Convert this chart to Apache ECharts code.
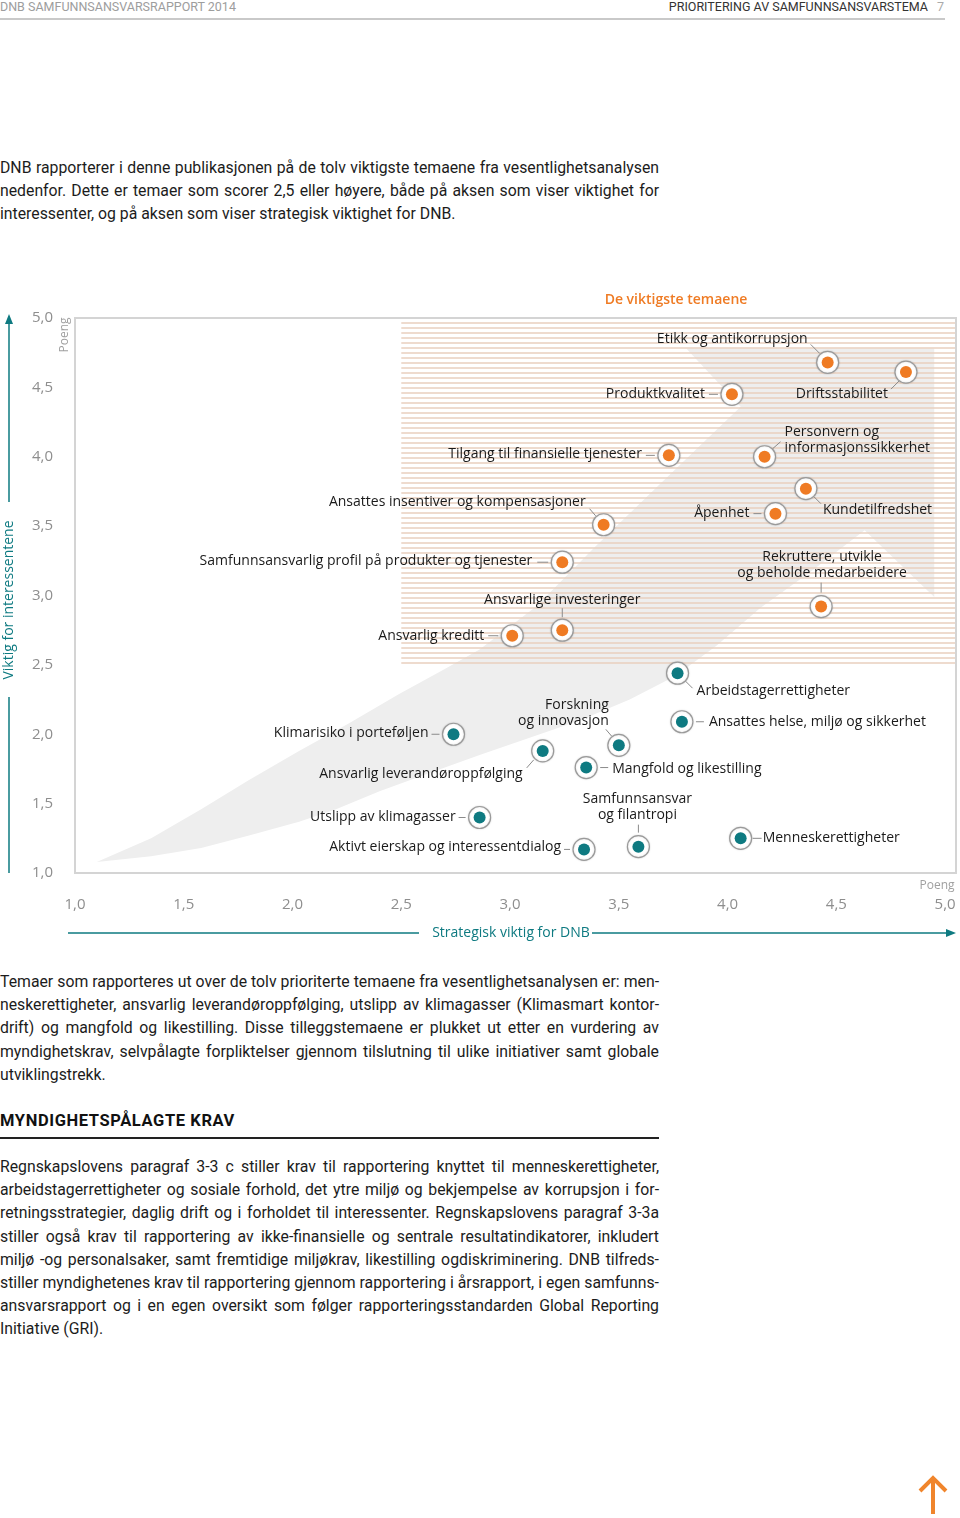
<!DOCTYPE html>
<html><head><meta charset="utf-8">
<script src="https://cdn.jsdelivr.net/npm/echarts@6/dist/echarts.min.js"></script>
<style>
html,body{margin:0;padding:0;background:#fff;}
body{width:960px;height:1518px;position:relative;overflow:hidden;font-family:Roboto,"Noto Sans",sans-serif;color:#1c1c1c;}
.hdr{position:absolute;top:0;font-size:12.5px;line-height:14px;white-space:nowrap;}
.para{position:absolute;left:0;width:659px;font-size:15.8px;line-height:23.2px;}
.para div{white-space:nowrap;text-align:left;}
#chart{position:absolute;left:0;top:0;width:960px;height:1518px;}
</style></head>
<body>
<div class="hdr" style="left:0;color:#9d9d9d;">DNB SAMFUNNSANSVARSRAPPORT 2014</div>
<div class="hdr" style="right:32px;color:#333;">PRIORITERING AV SAMFUNNSANSVARSTEMA</div>
<div class="hdr" style="left:937px;color:#aaa;">7</div>
<div style="position:absolute;left:0;top:18px;width:945px;height:1.5px;background:#c9c9c9;"></div>

<div class="para" style="top:156px;">
<div class="j">DNB rapporterer i denne publikasjonen på de tolv viktigste temaene fra vesentlighetsanalysen</div>
<div class="j">nedenfor. Dette er temaer som scorer 2,5 eller høyere, både på aksen som viser viktighet for</div>
<div>interessenter, og på aksen som viser strategisk viktighet for DNB.</div>
</div>

<div class="para" style="top:970px;">
<div class="j">Temaer som rapporteres ut over de tolv prioriterte temaene fra vesentlighetsanalysen er: men-</div>
<div class="j">neskerettigheter, ansvarlig leverandøroppfølging, utslipp av klimagasser (Klimasmart kontor-</div>
<div class="j">drift) og mangfold og likestilling. Disse tilleggstemaene er plukket ut etter en vurdering av</div>
<div class="j">myndighetskrav, selvpålagte forpliktelser gjennom tilslutning til ulike initiativer samt globale</div>
<div>utviklingstrekk.</div>
</div>

<div style="position:absolute;left:0;top:1109px;font-size:16.5px;line-height:23px;font-weight:bold;letter-spacing:0.6px;color:#111;white-space:nowrap;">MYNDIGHETSPÅLAGTE KRAV</div>
<div style="position:absolute;left:0;top:1137px;width:659px;height:2px;background:#222;"></div>

<div class="para" style="top:1155px;">
<div class="j">Regnskapslovens paragraf 3-3 c stiller krav til rapportering knyttet til menneskerettigheter,</div>
<div class="j">arbeidstagerrettigheter og sosiale forhold, det ytre miljø og bekjempelse av korrupsjon i for-</div>
<div class="j">retningsstrategier, daglig drift og i forholdet til interessenter. Regnskapslovens paragraf 3-3a</div>
<div class="j">stiller også krav til rapportering av ikke-finansielle og sentrale resultatindikatorer, inkludert</div>
<div class="j">miljø -og personalsaker, samt fremtidige miljøkrav, likestilling ogdiskriminering. DNB tilfreds-</div>
<div class="j">stiller myndighetenes krav til rapportering gjennom rapportering i årsrapport, i egen samfunns-</div>
<div class="j">ansvarsrapport og i en egen oversikt som følger rapporteringsstandarden Global Reporting</div>
<div>Initiative (GRI).</div>
</div>

<div id="chart"></div>
<script>
// ---- data ----
const topics = [
  'Etikk og antikorrupsjon',
  'Driftsstabilitet',
  'Produktkvalitet',
  'Tilgang til finansielle tjenester',
  'Personvern og\ninformasjonssikkerhet',
  'Kundetilfredshet',
  'Åpenhet',
  'Ansattes insentiver og kompensasjoner',
  'Samfunnsansvarlig profil på produkter og tjenester',
  'Rekruttere, utvikle\nog beholde medarbeidere',
  'Ansvarlige investeringer',
  'Ansvarlig kreditt',
  'Arbeidstagerrettigheter',
  'Ansattes helse, miljø og sikkerhet',
  'Forskning\nog innovasjon',
  'Ansvarlig leverandøroppfølging',
  'Mangfold og likestilling',
  'Klimarisiko i porteføljen',
  'Utslipp av klimagasser',
  'Aktivt eierskap og interessentdialog',
  'Samfunnsansvar\nog filantropi',
  'Menneskerettigheter'
];
const strategicScore   = [4.46, 4.82, 4.02, 3.73, 4.17, 4.36, 4.22, 3.43, 3.24, 4.43, 3.24, 3.01, 3.77, 3.79, 3.50, 3.15, 3.35, 2.74, 2.86, 3.34, 3.59, 4.06];
const stakeholderScore = [4.68, 4.61, 4.45, 4.01, 4.00, 3.77, 3.59, 3.51, 3.24, 2.92, 2.75, 2.71, 2.44, 2.09, 1.92, 1.88, 1.76, 2.00, 1.40, 1.17, 1.19, 1.25];
const prioritized      = [1,1,1,1,1,1,1,1,1,1,1,1, 0,0,0,0,0,0,0,0,0,0];
const axisTicks = [1, 1.5, 2, 2.5, 3, 3.5, 4, 4.5, 5];
const threshold = 2.5;
// decorative arrow band behind the points (in score units)
const bandOutline = [
  [1.10,1.08],[1.35,1.25],[1.58,1.46],[1.80,1.67],[2.03,1.88],[2.26,2.08],[2.49,2.29],[2.70,2.47],[2.86,2.61],[3.12,2.92],[3.39,3.35],[3.70,3.82],[4.06,4.36],
  [3.81,4.78],[4.95,4.78],[4.95,2.99],[4.63,3.47],
  [4.38,3.17],[4.15,2.91],[3.95,2.64],[3.76,2.42],[3.55,2.25],[3.32,2.10],[3.08,1.97],[2.86,1.85],[2.63,1.72],[2.40,1.59],[2.20,1.46],[2.03,1.37],[1.80,1.27],[1.58,1.18],[1.35,1.12]
];

// ---- styling / layout ----
const ORANGE = '#ef7b24', TEAL = '#0e7a81';
const FONT = '"Open Sans", "Noto Sans", sans-serif';
const labelLayout = [
  {dx:-20,dy:-23,align:'right', lead:[-17,-18,-8,-9]},
  {dx:-18,dy:22, align:'right', lead:[-15,17,-7,9]},
  {dx:-27,dy:0,  align:'right', lead:[-23,0,-14,0]},
  {dx:-27,dy:-1, align:'right', lead:[-23,0,-14,0]},
  {dx:20, dy:-17,align:'left',  lead:[8,-8,16,-15]},
  {dx:17, dy:21, align:'left',  lead:[8,8,15,15]},
  {dx:-26,dy:-1, align:'right', lead:[-22,0,-14,0]},
  {dx:-18,dy:-23,align:'right', lead:[-14,-16,-8,-9]},
  {dx:-30,dy:-1, align:'right', lead:[-25,0,-14,0]},
  {dx:1,  dy:-42,align:'center',lead:[0,-24,0,-14]},
  {dx:0,  dy:-30,align:'center',lead:[0,-22,0,-13]},
  {dx:-28,dy:0,  align:'right', lead:[-24,0,-14,0]},
  {dx:19, dy:18, align:'left',  lead:[8,8,15,15]},
  {dx:27, dy:0,  align:'left',  lead:[14,0,22,0]},
  {dx:-10,dy:-32,align:'right', lead:[-13,-16,-7,-9]},
  {dx:-20,dy:23, align:'right', lead:[-16,17,-9,9]},
  {dx:26, dy:1,  align:'left',  lead:[14,0,22,0]},
  {dx:-25,dy:-1, align:'right', lead:[-22,0,-14,0]},
  {dx:-24,dy:0,  align:'right', lead:[-21,0,-14,0]},
  {dx:-23,dy:-2, align:'right', lead:[-20,0,-14,0]},
  {dx:-1, dy:-40,align:'center',lead:[0,-22,0,-14]},
  {dx:22, dy:0,  align:'left',  lead:[12,0,21,0]}
];

// justify text lines to the column width by measuring them
function justifyLines() {
  document.querySelectorAll('.para div.j').forEach(d => {
    d.style.wordSpacing = '0px';
    d.style.display = 'inline-block';
    const w = d.getBoundingClientRect().width;
    const n = (d.textContent.match(/ /g) || []).length;
    d.style.display = 'block';
    if (n > 0) d.style.wordSpacing = ((659 - w) / n) + 'px';
  });
}
justifyLines();
if (document.fonts && document.fonts.ready) document.fonts.ready.then(justifyLines);

const chart = echarts.init(document.getElementById('chart'), null, {renderer:'canvas'});
const fmt = v => axisTicks.some(t => Math.abs(t - v) < 1e-6) ? v.toFixed(1).replace('.', ',') : '';

const pointData = topics.map((t, i) => [strategicScore[i], stakeholderScore[i], i]);

chart.setOption({
  animation: false,
  grid: {left:75, top:318, width:881, height:555, show:true, borderColor:'#d4d4d4', borderWidth:2, backgroundColor:'transparent'},
  xAxis: {type:'value', min:1, max:5.05, interval:0.5,
    axisLine:{show:false}, axisTick:{show:false}, splitLine:{show:false},
    axisLabel:{formatter:fmt, color:'#8e8e8e', fontSize:15, fontFamily:FONT, margin:24}},
  yAxis: {type:'value', min:1, max:5, interval:0.5,
    axisLine:{show:false}, axisTick:{show:false}, splitLine:{show:false},
    axisLabel:{formatter:fmt, color:'#8e8e8e', fontSize:15, fontFamily:FONT, margin:22}},
  graphic: [
    {type:'text', x:676, y:300, style:{text:'De viktigste temaene', fill:ORANGE, font:'600 14px '+FONT, align:'center', verticalAlign:'middle'}},
    {type:'text', x:65, y:335, rotation:Math.PI/2, style:{text:'Poeng', fill:'#a0a0a0', font:'12px '+FONT, align:'center', verticalAlign:'middle'}},
    {type:'text', x:937, y:886, style:{text:'Poeng', fill:'#a0a0a0', font:'12px '+FONT, align:'center', verticalAlign:'middle'}},
    {type:'text', x:9, y:600, rotation:Math.PI/2, style:{text:'Viktig for interessentene', fill:TEAL, font:'14px '+FONT, align:'center', verticalAlign:'middle'}},
    {type:'line', shape:{x1:9,y1:502,x2:9,y2:322}, style:{stroke:TEAL, lineWidth:1.5}},
    {type:'polygon', shape:{points:[[9,314],[5,324],[13,324]]}, style:{fill:TEAL}},
    {type:'line', shape:{x1:9,y1:697,x2:9,y2:873}, style:{stroke:TEAL, lineWidth:1.5}},
    {type:'text', x:511, y:933, style:{text:'Strategisk viktig for DNB', fill:TEAL, font:'14px '+FONT, align:'center', verticalAlign:'middle'}},
    {type:'line', shape:{x1:68,y1:933,x2:419,y2:933}, style:{stroke:TEAL, lineWidth:1.5}},
    {type:'line', shape:{x1:592,y1:933,x2:948,y2:933}, style:{stroke:TEAL, lineWidth:1.5}},
    {type:'polygon', shape:{points:[[956,933],[946,929],[946,937]]}, style:{fill:TEAL}},
    {type:'polyline', shape:{points:[[920,1491],[933,1478],[946,1491]]}, style:{stroke:'#f0852c', lineWidth:4, fill:null}},
    {type:'line', shape:{x1:933,y1:1480,x2:933,y2:1514}, style:{stroke:'#f0852c', lineWidth:4}}
  ],
  series: [
    { // band (decorative)
      type:'custom', coordinateSystem:'cartesian2d', silent:true, z:1,
      data:[[threshold, threshold]],
      renderItem:(params, api) => ({
        type:'polygon',
        shape:{points: bandOutline.map(p => api.coord(p))},
        style:{fill:'#eeeeee'}
      })
    },
    { // striped "most important" zone
      type:'custom', coordinateSystem:'cartesian2d', silent:true, z:2,
      data:[[threshold, threshold]],
      renderItem:(params, api) => {
        const tl = api.coord([threshold, 5]);
        const br = api.coord([5.05, threshold]);
        const children = [];
        for (let y = tl[1] + 5; y <= br[1] + 0.5; y += 5) {
          children.push({type:'line', shape:{x1:tl[0], y1:y, x2:br[0]-1, y2:y}, style:{stroke:'#e8cfbe', lineWidth:1.4}});
        }
        return {type:'group', children};
      }
    },
    { // topics
      type:'custom', coordinateSystem:'cartesian2d', z:5,
      data: pointData,
      renderItem:(params, api) => {
        const i = api.value(2);
        const p = api.coord([api.value(0), api.value(1)]);
        const L = labelLayout[i];
        const color = prioritized[i] ? ORANGE : TEAL;
        return {type:'group', children:[
          {type:'line', shape:{x1:p[0]+L.lead[0], y1:p[1]+L.lead[1], x2:p[0]+L.lead[2], y2:p[1]+L.lead[3]}, style:{stroke:'#8a8a8a', lineWidth:1}},
          {type:'circle', shape:{cx:p[0], cy:p[1], r:11}, style:{fill:'#fff', stroke:'#9a9a9a', lineWidth:1.2, shadowBlur:2, shadowColor:'rgba(0,0,0,0.15)'}},
          {type:'circle', shape:{cx:p[0], cy:p[1], r:6}, style:{fill:color}},
          {type:'text', x:p[0]+L.dx, y:p[1]+L.dy, style:{text:topics[i], fill:'#1a1a1a', font:'14px '+FONT, align:L.align, verticalAlign:'middle', lineHeight:16}}
        ]};
      }
    }
  ]
});
</script>
</body></html>
